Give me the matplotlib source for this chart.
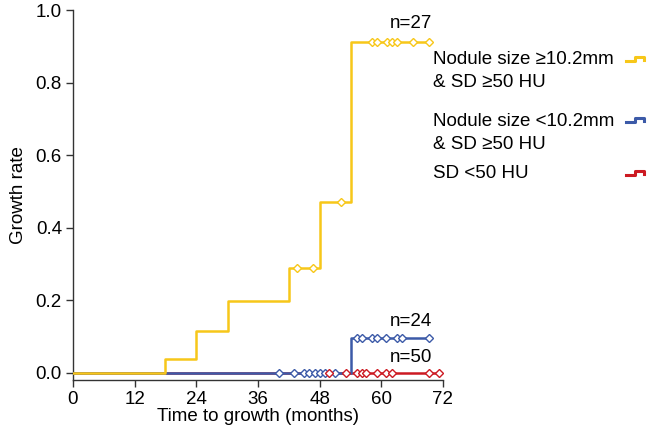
import numpy as np
import matplotlib
matplotlib.use("Agg")
import matplotlib.pyplot as plt
from matplotlib.lines import Line2D

plt.rcParams['font.family'] = ['Liberation Sans', 'DejaVu Sans']
plt.rcParams['font.size'] = 13.5

# Kaplan-Meier style step curves (time in months, cumulative growth rate)
yellow_t = [0, 17.9, 23.9, 30.2, 42.0, 48.1, 54.1, 69.2]
yellow_y = [0, 0.039, 0.116, 0.198, 0.289, 0.471, 0.912, 0.912]
yellow_cens_t = [43.6, 46.7, 52.2, 58.1, 59.1, 61.2, 62.1, 63.1, 66.1, 69.2]
yellow_cens_y = [0.289, 0.289, 0.471, 0.912, 0.912, 0.912, 0.912, 0.912, 0.912, 0.912]

blue_t = [0, 54.1, 69.2]
blue_y = [0, 0.095, 0.095]
blue_cens_t = [40.1, 43.1, 45.0, 46.0, 47.0, 48.0, 49.0, 51.0,
               55.2, 56.2, 58.1, 59.1, 61.0, 63.0, 64.0, 69.2]
blue_cens_y = [0, 0, 0, 0, 0, 0, 0, 0,
               0.095, 0.095, 0.095, 0.095, 0.095, 0.095, 0.095, 0.095]

red_t = [0, 71.3]
red_y = [0, 0]
red_cens_t = [49.9, 53.2, 55.2, 56.2, 57.1, 59.1, 61.0, 62.0, 69.2, 71.3]
red_cens_y = [0, 0, 0, 0, 0, 0, 0, 0, 0, 0]

labels = ['Nodule size \u226510.2mm\n& SD \u226550 HU',
          'Nodule size <10.2mm\n& SD \u226550 HU',
          'SD <50 HU']
n_labels = ['n=27', 'n=24', 'n=50']

c_yellow = '#F7C719'
c_blue = '#3C5AA8'
c_red = '#CC1A22'

fig = plt.figure(figsize=(6.5, 4.37), dpi=100)
ax = fig.add_axes([0.1123, 0.1304, 0.5692, 0.8467])

ax.step(red_t, red_y, where='post', color=c_red, lw=1.8, zorder=2)
ax.step(blue_t, blue_y, where='post', color=c_blue, lw=1.8, zorder=3)
ax.step(yellow_t, yellow_y, where='post', color=c_yellow, lw=1.8, zorder=4)

mk = dict(marker='D', ms=4.4, mfc='white', mew=1.0, ls='none', clip_on=False)
ax.plot(blue_cens_t, blue_cens_y, mec=c_blue, zorder=5, **mk)
ax.plot(red_cens_t, red_cens_y, mec=c_red, zorder=6, **mk)
ax.plot(yellow_cens_t, yellow_cens_y, mec=c_yellow, zorder=7, **mk)

ax.text(65.8, 0.962, n_labels[0], ha='center', va='center')
ax.text(65.8, 0.14, n_labels[1], ha='center', va='center')
ax.text(65.8, 0.041, n_labels[2], ha='center', va='center')

ax.set_xlim(0, 72)
ax.set_ylim(-0.02, 1.0)
ax.set_xticks([0, 12, 24, 36, 48, 60, 72])
ax.set_yticks([0.0, 0.2, 0.4, 0.6, 0.8, 1.0])
ax.set_yticklabels(['0.0', '0.2', '0.4', '0.6', '0.8', '1.0'])
ax.set_xlabel('Time to growth (months)', labelpad=0)
ax.set_ylabel('Growth rate', labelpad=6)
ax.tick_params(direction='out', length=5, width=1, colors='#333333',
               labelcolor='black', pad=3)
for s in ['top', 'right']:
    ax.spines[s].set_visible(False)
for s in ['left', 'bottom']:
    ax.spines[s].set_color('#333333')
    ax.spines[s].set_linewidth(1.0)

# legend drawn to the right of the axes
W, H = 650.0, 437.0
text_y = [71, 133, 173]
icon_y = [59, 120, 173]
for lab, ty, iy, col in zip(labels, text_y, icon_y, [c_yellow, c_blue, c_red]):
    fig.text(433 / W, 1 - ty / H, lab, ha='left', va='center',
             linespacing=1.45)
    xs = np.array([626, 635, 635, 644, 644]) / W
    ys = 1 - np.array([iy + 2, iy + 2, iy - 2, iy - 2, iy + 1]) / H
    fig.add_artist(Line2D(xs, ys, color=col, lw=2.2))

fig.savefig('out.png', dpi=100)
